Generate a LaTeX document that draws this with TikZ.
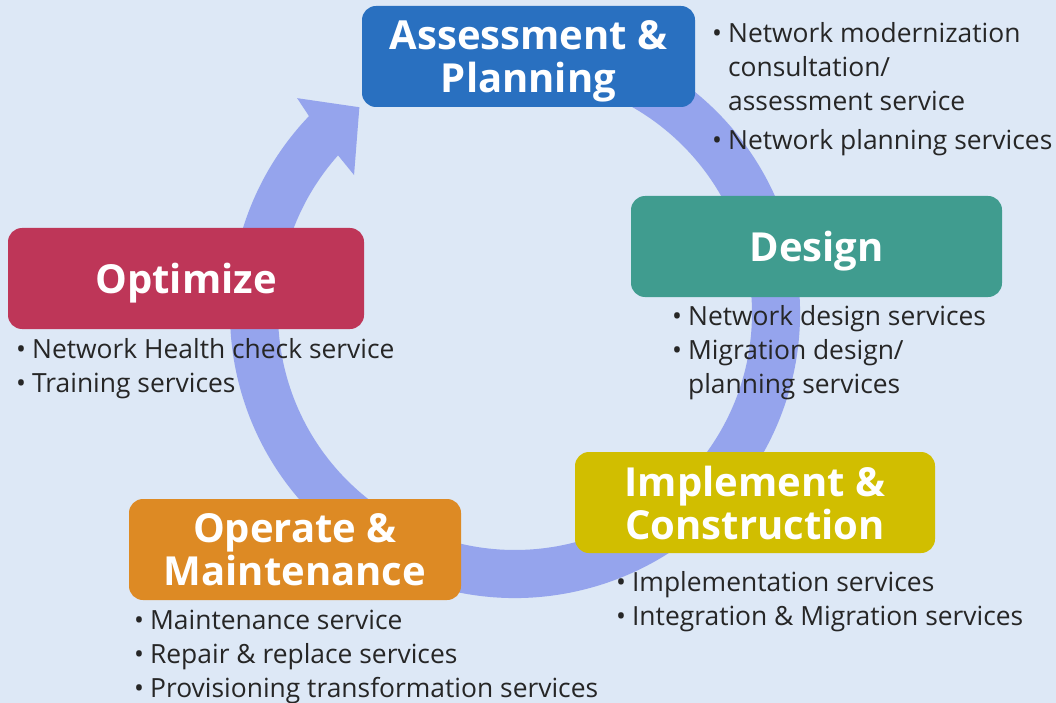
\documentclass[tikz,border=0pt]{standalone}
\usepackage{fontspec}
\setmainfont{Open Sans}
\definecolor{bgblue}{RGB}{221,232,246}
\definecolor{ringblue}{RGB}{149,164,237}
\definecolor{planblue}{RGB}{41,112,192}
\definecolor{designteal}{RGB}{64,156,143}
\definecolor{optred}{RGB}{190,54,88}
\definecolor{implyellow}{RGB}{209,190,0}
\definecolor{operorange}{RGB}{221,138,36}
\definecolor{listgray}{RGB}{38,38,38}
\tikzset{
  phasebox/.style={rectangle,rounded corners=14pt,minimum height=101pt,inner sep=0pt,
    text depth=0pt,text=white,align=center,font=\fontsize{40}{43}\selectfont\bfseries},
  servicelist/.style={anchor=base west,inner sep=0pt,text=listgray,
    font=\fontsize{26.4}{34}\selectfont}
}
\newcommand\phase[5]{\node(#1)[phasebox,fill=#2,minimum width=#3pt] at (#4){#5};}
\newcommand\services[3]{\node(#1)[servicelist] at (#2){\begin{tabular}[t]{@{}l@{\hspace{6pt}}l@{}}#3\end{tabular}};}

\begin{document}
\begin{tikzpicture}[x=1pt,y=-1pt]
    \fill[bgblue](0,0) rectangle (1056,703);
    \useasboundingbox(0,0) rectangle (1056,703);
    \coordinate(c) at (515,313);
    \fill[ringblue]([shift={(-105:285)}]c) arc[start angle=-105,end angle=223.7,radius=285]
        --([shift={(224.6:306)}]c) --([shift={(232.9:258)}]c) --([shift={(220.6:212)}]c)
        --([shift={(221.7:237)}]c) arc[start angle=221.7,end angle=-105,radius=237] --cycle;

    \phase{plan}{planblue}{333}{528.5,56.5}{Assessment \&\\Planning}
    \phase{design}{designteal}{371}{816.5,246.5}{Design}
    \phase{optimize}{optred}{356}{186,278.5}{Optimize}
    \phase{implement}{implyellow}{360}{755,502.5}{Implement \&\\Construction}
    \phase{operate}{operorange}{332}{295,549.5}{Operate \&\\Maintenance}

    \services{planlist}{712,43}{\textbullet & Network modernization\\ & consultation/\\ & assessment service\\[5pt] \textbullet & Network planning services}
    \services{designlist}{672,325}{\textbullet & Network design services\\ \textbullet & Migration design/\\ & planning services}
    \services{optimizelist}{16,358}{\textbullet & Network Health check service\\ \textbullet & Training services}
    \services{implementlist}{616,591}{\textbullet & Implementation services\\ \textbullet & Integration \& Migration services}
    \services{operatelist}{134,629}{\textbullet & Maintenance service\\ \textbullet & Repair \& replace services\\ \textbullet & Provisioning transformation services}
\end{tikzpicture}
\end{document}
